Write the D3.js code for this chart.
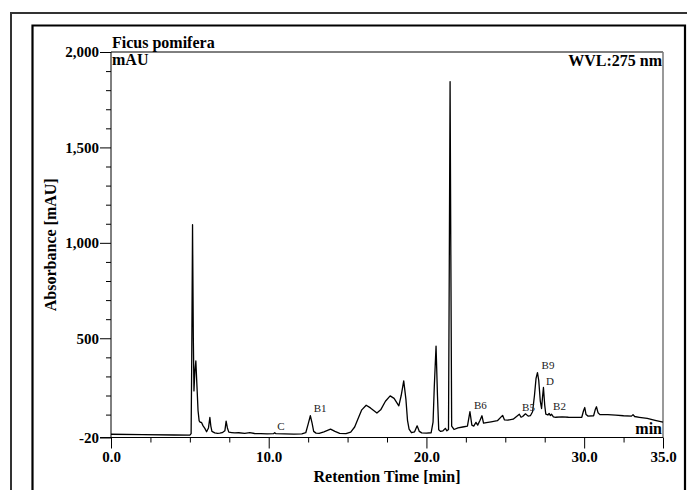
<!DOCTYPE html>
<html>
<head>
<meta charset="utf-8">
<script src="https://cdn.jsdelivr.net/npm/d3@7"></script>
<style>
  body { margin: 0; background: #fff; }
  text { font-family: "Liberation Serif", "Times New Roman", serif; }
</style>
</head>
<body>
<div id="viz-container"></div>
<script>
// chromatogram: retention time [min], absorbance [mAU]
let times = [0.0, 2.0, 4.0, 5.0, 5.08, 5.12, 5.17, 5.22, 5.26, 5.32, 5.38, 5.45, 5.52, 5.59, 5.66, 5.74, 5.84, 5.95,
  6.06, 6.18, 6.27, 6.33, 6.4, 6.58, 6.75, 6.9, 7.05, 7.22, 7.3, 7.38, 7.47, 7.65, 7.85, 8.1, 8.48, 8.8, 9.1, 9.5,
  9.9, 10.3, 10.38, 10.46, 11.0, 11.6, 12.1, 12.35, 12.5, 12.64, 12.75, 12.85, 13.0, 13.2, 13.5, 13.92, 14.2, 14.5,
  14.9, 15.2, 15.45, 15.65, 15.9, 16.18, 16.45, 16.86, 17.1, 17.4, 17.7, 17.95, 18.25, 18.4, 18.56, 18.7, 18.8,
  18.9, 19.05, 19.25, 19.41, 19.55, 19.7, 20.0, 20.3, 20.42, 20.5, 20.61, 20.7, 20.78, 20.9, 21.05, 21.2, 21.3,
  21.4, 21.45, 21.5, 21.55, 21.6, 21.75, 22.0, 22.3, 22.6, 22.76, 22.88, 23.0, 23.14, 23.25, 23.4, 23.52, 23.62,
  23.8, 24.1, 24.5, 24.83, 24.95, 25.15, 25.5, 25.89, 26.0, 26.1, 26.28, 26.45, 26.6, 26.73, 26.85, 26.95, 27.04,
  27.12, 27.22, 27.3, 27.36, 27.42, 27.5, 27.57, 27.7, 27.78, 27.86, 27.93, 28.05, 28.2, 28.6, 29.0, 29.5, 29.85,
  29.96, 30.04, 30.12, 30.25, 30.6, 30.7, 30.78, 30.88, 31.0, 31.5, 32.0, 32.5, 33.0, 33.1, 33.2, 33.5, 34.0,
  34.5, 35.0];
let absorbance = [-3, -5, -7, -8, 0, 400, 1095, 500, 224, 330, 381, 250, 120, 67, 60, 59, 41, 28,
  10, 30, 85, 40, 12, 4, 2, 3, 5, 15, 66, 30, 8, 6, 4, 5, 2, 5, 1, 0,
  -1, 0, 5, 0, -1, -2, -1, 5, 50, 94, 55, 12, 3, 2, 10, 24, 12, 2,
  0, 8, 35, 76, 125, 149, 135, 108, 125, 170, 198, 185, 146, 200, 277, 180, 70,
  24, 5, 10, 41, 12, 4, 3, 5, 60, 250, 459, 200, 20, 12, 15, 28, 15,
  22, 900, 1845, 900, 40, 22, 30, 35, 40, 115, 45, 40, 59, 45, 70, 94, 55,
  58, 62, 68, 96, 72, 71, 76, 102, 86, 90, 104, 92, 95, 115, 200, 290, 320,
  280, 170, 132, 190, 242, 150, 102, 98, 106, 95, 102, 88, 86, 88, 86, 85, 86,
  120, 137, 100, 92, 94, 125, 141, 110, 100, 100, 97, 94, 92, 100, 90, 86, 80,
  70, 60];

// peak annotations
let peakNames = ['C', 'B1', 'B6', 'B5', 'B9', 'D', 'B2'];
let peakTimes = [10.78, 13.26, 23.42, 26.47, 27.71, 27.84, 28.44];
let peakLabelLevels = [21, 114, 129, 118, 338, 256, 123];

// axes
let yTickLabels = [-20, 500, 1000, 1500, 2000];
let xTickLabels = [0, 10, 20, 30, 35];

let width = 687;
let height = 490;

let viz = d3.select('#viz-container')
  .append('svg')
  .attr('id', 'viz')
  .attr('width', width)
  .attr('height', height);

// frames
viz.append('path')
  .attr('d', 'M11,490 V13 H687')
  .attr('fill', 'none')
  .attr('stroke', '#333')
  .attr('stroke-width', 2);
viz.append('path')
  .attr('d', 'M32.5,490 V25.5 H685 V490')
  .attr('fill', 'none')
  .attr('stroke', '#000')
  .attr('stroke-width', 2.2);

let plotLeft = 111, plotRight = 663, plotTop = 52, plotBottom = 437.5;

let xScale = d3.scaleLinear().domain([0, 35]).range([plotLeft, plotRight]);
let yScale = d3.scaleLinear().domain([-20, 2000]).range([plotBottom, plotTop]);

// plot box top and right
viz.append('line')
  .attr('x1', plotLeft).attr('x2', plotRight)
  .attr('y1', plotTop).attr('y2', plotTop)
  .attr('stroke', '#000').attr('stroke-width', 1);
viz.append('line')
  .attr('x1', plotRight).attr('x2', plotRight)
  .attr('y1', plotTop).attr('y2', plotBottom)
  .attr('stroke', '#777').attr('stroke-width', 1.5);

// y axis
let yMinor = d3.range(0, 2001, 100).filter(d => d % 500 != 0);
let yAxisMinor = d3.axisLeft(yScale).tickValues(yMinor).tickSize(5).tickFormat('');
viz.append('g')
  .attr('transform', 'translate(' + plotLeft + ',0)')
  .call(yAxisMinor)
  .call(g => g.select('.domain').remove());
let yAxis = d3.axisLeft(yScale)
  .tickValues(yTickLabels)
  .tickSize(11)
  .tickPadding(1)
  .tickFormat(d => d3.format(',')(d).replace('\u2212', '-'));
viz.append('g')
  .attr('class', 'yaxis')
  .attr('transform', 'translate(' + plotLeft + ',0)')
  .call(yAxis)
  .call(g => g.select('.domain').attr('d', 'M0,' + plotTop + 'V' + plotBottom));

// x axis
let xMinor = d3.range(0, 35.01, 2.5).filter(d => xTickLabels.indexOf(d) < 0);
let xAxisMinor = d3.axisBottom(xScale).tickValues(xMinor).tickSize(5).tickFormat('');
viz.append('g')
  .attr('transform', 'translate(0,' + plotBottom + ')')
  .call(xAxisMinor)
  .call(g => g.select('.domain').remove());
let xAxis = d3.axisBottom(xScale)
  .tickValues(xTickLabels)
  .tickSize(11)
  .tickPadding(3)
  .tickFormat(d3.format('.1f'));
viz.append('g')
  .attr('class', 'xaxis')
  .attr('transform', 'translate(0,' + plotBottom + ')')
  .call(xAxis)
  .call(g => g.select('.domain').attr('d', 'M' + (plotLeft - 11) + ',0H' + plotRight));

viz.selectAll('.tick text')
  .attr('font-family', 'Liberation Serif')
  .attr('font-weight', 'bold')
  .attr('font-size', 15)
  .attr('fill', '#000');
viz.selectAll('.tick line').attr('stroke', '#000');
viz.selectAll('.domain').attr('stroke', '#000');

// trace
let points = times.map((t, i) => [t, absorbance[i]]);
let line = d3.line()
  .x(d => xScale(d[0]))
  .y(d => yScale(d[1]));
viz.append('path')
  .datum(points)
  .attr('d', line)
  .attr('fill', 'none')
  .attr('stroke', '#000')
  .attr('stroke-width', 1.3)
  .attr('stroke-linejoin', 'round');

// peak labels
viz.selectAll('.peak').data(peakNames).enter()
  .append('text')
  .attr('class', 'peak')
  .text(d => d)
  .attr('x', (d, i) => xScale(peakTimes[i]))
  .attr('y', (d, i) => yScale(peakLabelLevels[i]))
  .attr('text-anchor', 'middle')
  .attr('font-size', 11)
  .attr('fill', '#222');

// titles
function boldText(str, x, y, anchor) {
  return viz.append('text')
    .text(str)
    .attr('x', x)
    .attr('y', y)
    .attr('text-anchor', anchor)
    .attr('font-weight', 'bold')
    .attr('font-size', 16)
    .attr('fill', '#000');
}
boldText('Ficus pomifera', plotLeft + 1, 48, 'start');
boldText('mAU', plotLeft + 1, 65, 'start');
boldText('WVL:275 nm', plotRight - 1, 66, 'end');
boldText('min', plotRight - 1, 434, 'end');
boldText('Retention Time [min]', (plotLeft + plotRight) / 2, 482, 'middle');
boldText('Absorbance [mAU]', 0, 0, 'middle')
  .attr('transform', 'translate(56,' + (plotTop + plotBottom) / 2 + ') rotate(-90)');
</script>
</body>
</html>
